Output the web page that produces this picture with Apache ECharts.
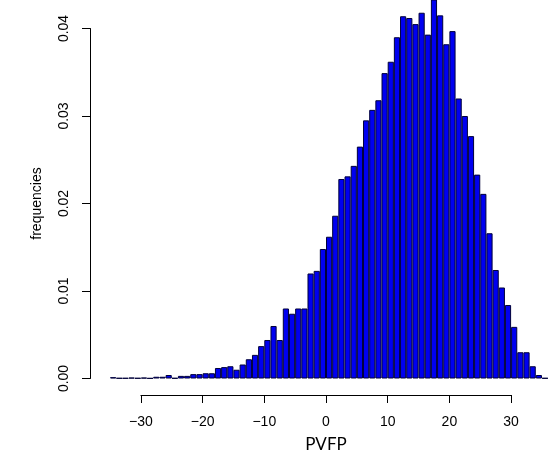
<!DOCTYPE html>
<html>
<head>
<meta charset="utf-8">
<script src="https://cdn.jsdelivr.net/npm/echarts@6/dist/echarts.min.js"></script>
<style>
html,body{margin:0;padding:0;background:#fff;}
#chart{width:549px;height:468px;}
</style>
</head>
<body>
<div id="chart"></div>
<script>
// Histogram bins (left edges, width 1) of PVFP
var binStarts = [-35,-34,-33,-32,-31,-30,-29,-28,-27,-26,-25,-24,-23,-22,-21,-20,-19,-18,-17,-16,-15,-14,-13,-12,-11,-10,-9,-8,-7,-6,-5,-4,-3,-2,-1,0,1,2,3,4,5,6,7,8,9,10,11,12,13,14,15,16,17,18,19,20,21,22,23,24,25,26,27,28,29,30,31,32,33,34,35];
// density ("frequencies") per bin
var frequencies = [0.00015,0.00005,0.00005,0.0001,0.00005,0.0001,0.00003,0.0002,0.0002,0.0004,0.00005,0.0003,0.0003,0.0005,0.0005,0.0006,0.0006,
  0.0012,0.0013,0.0014,0.0010,0.0016,0.0022,0.0027,0.0037,0.0044,
  0.0060,0.0044,0.0080,0.0074,0.0080,0.0080,0.0120,0.0123,0.0148,
  0.0162,0.0186,0.0228,0.0231,0.0243,0.0265,0.0295,0.0307,0.0318,0.0349,
  0.0362,0.0390,0.0414,0.0412,0.0405,0.0418,0.0393,0.0437,0.0415,0.0382,0.0397,
  0.0320,0.0300,0.0277,0.0233,0.0211,0.0166,0.0124,0.0104,0.0084,0.0059,0.0030,0.0030,0.0014,0.0004,0.00005];
var xTicks = [-30,-20,-10,0,10,20,30];
var yTicks = [0.00,0.01,0.02,0.03,0.04];
var xTitle = 'PVFP';
var yTitle = 'frequencies';

var chart = echarts.init(document.getElementById('chart'), null, {renderer:'canvas'});
var labelFont = '"Liberation Sans", Arial, Helvetica, sans-serif';
chart.setOption({
  animation: false,
  backgroundColor: '#ffffff',
  grid: [
    {left: 110.05, width: 438.07, top: 0, height: 378.5, containLabel: false},
    {left: 140.9, width: 370.2, top: 28.5, height: 350, containLabel: false}
  ],
  xAxis: [
    {type:'category', gridIndex:0, data: binStarts, show:false, boundaryGap:true},
    {type:'value', gridIndex:1, min: xTicks[0], max: xTicks[xTicks.length-1], interval: 10,
     offset: 16.5, position:'bottom',
     axisLine:{show:true, onZero:false, lineStyle:{color:'#000', width:1}},
     axisTick:{show:true, length:8, lineStyle:{color:'#000', width:1}},
     splitLine:{show:false},
     axisLabel:{color:'#000', fontSize:14, fontFamily:labelFont, margin:20,
       formatter:function(v){return v<0 ? '\u2212'+Math.abs(v) : String(v);}},
     name: xTitle, nameLocation:'middle', nameGap:41,
     nameTextStyle:{color:'#000', fontSize:17, fontFamily:'Lato, "Open Sans", sans-serif'}
    }
  ],
  yAxis: [
    {type:'value', gridIndex:0, min:0, max:0.043257, show:false},
    {type:'value', gridIndex:1, min: yTicks[0], max: yTicks[yTicks.length-1], interval:0.01,
     offset: 50.9, position:'left',
     axisLine:{show:true, onZero:false, lineStyle:{color:'#000', width:1}},
     axisTick:{show:true, length:8, lineStyle:{color:'#000', width:1}},
     splitLine:{show:false},
     axisLabel:{color:'#000', fontSize:14, fontFamily:labelFont, rotate:90, margin:19,
       formatter:function(v){return v.toFixed(2);}},
     name: yTitle, nameLocation:'middle', nameGap:46, nameRotate:90,
     nameTextStyle:{color:'#000', fontSize:14, fontFamily:labelFont}
    }
  ],
  series: [{
    type:'bar', xAxisIndex:0, yAxisIndex:0, data: frequencies,
    barCategoryGap:'0%', barGap:'0%',
    itemStyle:{color:'#0000f0', borderColor:'#00003a', borderWidth:1},
    emphasis:{disabled:true}
  }]
});
</script>
</body>
</html>
